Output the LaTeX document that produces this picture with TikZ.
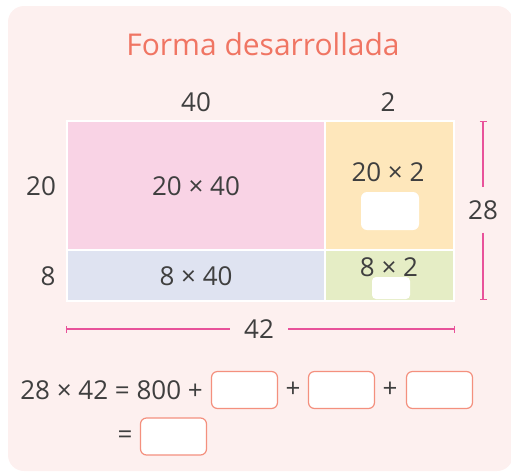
\documentclass[tikz,border=0pt]{standalone}
\usepackage{fontspec}
\setmainfont{Open Sans}
\usepackage{tikz}
\usetikzlibrary{positioning}
\usetikzlibrary{arrows.meta}

\definecolor{bgpink}{HTML}{FDF0EF}
\definecolor{titlered}{HTML}{F07563}
\definecolor{textgray}{HTML}{3F3F3F}
\definecolor{cellpink}{HTML}{F9D3E5}
\definecolor{cellyellow}{HTML}{FEE7BB}
\definecolor{cellblue}{HTML}{DFE3F1}
\definecolor{cellgreen}{HTML}{E5EDC5}
\definecolor{dimpink}{HTML}{E8529A}
\definecolor{boxsalmon}{HTML}{F4907E}

\tikzset{
  num/.style={text=textgray, font=\fontsize{26}{30}\selectfont, inner sep=0pt},
  cell/.style={anchor=north west, inner sep=0pt},
  blank/.style={fill=white, rounded corners=6pt, inner sep=0pt},
  answer/.style={draw=boxsalmon, line width=1.2pt, fill=white, rounded corners=6pt,
    minimum width=66pt, minimum height=37pt, inner sep=0pt},
  dim/.style={draw=dimpink, line width=1.4pt}
}

\begin{document}
\begin{tikzpicture}[x=1pt, y=-1pt]
    \clip (0,0) rectangle (511,472);
    \fill[bgpink, rounded corners=16pt] (8,6) rectangle (513,471);
    \node[text=titlered, font=\fontsize{30}{34}\selectfont, inner sep=0pt] (title) at (263,44) {Forma desarrollada};

    % area model
    \fill[white] (66,120) rectangle (455,302);
    \node[cell, fill=cellpink, minimum width=256pt, minimum height=127pt] (c11) at (68,122) {};
    \node[cell, fill=cellyellow, minimum width=127pt, minimum height=127pt] (c12) at (326,122) {};
    \node[cell, fill=cellblue, minimum width=256pt, minimum height=49pt] (c21) at (68,251) {};
    \node[cell, fill=cellgreen, minimum width=127pt, minimum height=49pt] (c22) at (326,251) {};

    \node[num] (t40) at (196,102) {40};
    \node[num] (t2) at (388,102) {2};
    \node[num] (l20) at (41,186) {20};
    \node[num] (l8) at (48,276) {8};

    \node[num] (p11) at (196,186) {20 × 40};
    \node[num] (p12) at (388,172) {20 × 2};
    \node[blank, minimum width=58pt, minimum height=38pt] (w12) at (390,211) {};
    \node[num] (p21) at (196,276) {8 × 40};
    \node[num] (p22) at (389,267) {8 × 2};
    \node[blank, rounded corners=4pt, minimum width=38pt, minimum height=22pt] (w22) at (391,288) {};

    % dimension lines
    \coordinate (vtop) at (483,121);
    \coordinate (vbot) at (483,300);
    \node[num, minimum height=45pt] (h28) at (483,210) {28};
    \draw[dim, {Bar[width=7pt]}-] (vtop) -- (h28.north);
    \draw[dim, -{Bar[width=7pt]}] (h28.south) -- (vbot);

    \coordinate (hleft) at (66,329);
    \coordinate (hright) at (455,329);
    \node[num, minimum width=58pt] (w42) at (259,329) {42};
    \draw[dim, {Bar[width=7pt]}-] (hleft) -- (w42.west);
    \draw[dim, -{Bar[width=7pt]}] (w42.east) -- (hright);

    % equation
    \node[num, anchor=east] (eq) at (203,390) {28 × 42 = 800 +};
    \node[answer] (b1) at (244.5,390) {};
    \node[num] (plus1) at (293,390) {+};
    \node[answer] (b2) at (341.5,390) {};
    \node[num] (plus2) at (390,390) {+};
    \node[answer] (b3) at (439.5,390) {};
    \node[num] (eq2) at (125,437) {=};
    \node[answer] (b4) at (173.5,436.5) {};
\end{tikzpicture}
\end{document}
